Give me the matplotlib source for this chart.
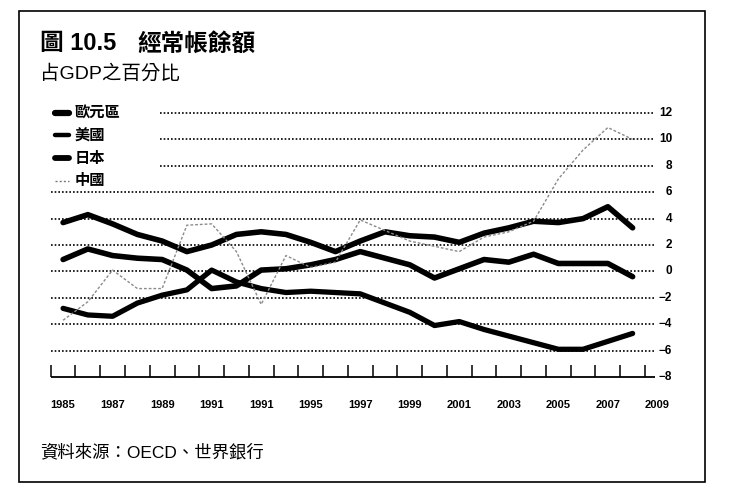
import matplotlib
matplotlib.use('Agg')
import matplotlib.pyplot as plt
from matplotlib.lines import Line2D
from matplotlib.patches import Rectangle
import matplotlib.transforms as mtransforms

plt.rcParams['font.family'] = ['Noto Sans CJK TC', 'DejaVu Sans']
MIXED = ['Liberation Sans', 'Noto Sans CJK TC', 'DejaVu Sans']

# ---------------- data ----------------
years = list(range(1985, 2009))
euro = [0.9, 1.7, 1.2, 1.0, 0.9, 0.1, -1.3, -1.1, 0.1, 0.2, 0.5, 0.9,
        1.5, 1.0, 0.5, -0.5, 0.2, 0.9, 0.7, 1.3, 0.6, 0.6, 0.6, -0.4]
usa = [-2.8, -3.3, -3.4, -2.4, -1.8, -1.4, 0.1, -0.8, -1.3, -1.6, -1.5, -1.6,
       -1.7, -2.4, -3.1, -4.1, -3.8, -4.4, -4.9, -5.4, -5.9, -5.9, -5.3, -4.7]
japan = [3.7, 4.3, 3.6, 2.8, 2.3, 1.5, 2.0, 2.8, 3.0, 2.8, 2.2, 1.5,
         2.3, 3.0, 2.7, 2.6, 2.2, 2.9, 3.3, 3.8, 3.7, 4.0, 4.9, 3.3]
china = [-3.7, -2.3, 0.1, -1.3, -1.3, 3.5, 3.6, 1.5, -2.5, 1.2, 0.3, 0.7,
         3.9, 3.1, 2.3, 1.9, 1.5, 2.6, 3.0, 3.8, 7.0, 9.2, 10.9, 10.0]
series_names = ['歐元區', '美國', '日本', '中國']
xtick_years = [1985, 1987, 1989, 1991, 1993, 1995, 1997, 1999, 2001, 2003, 2005, 2007, 2009]
xtick_labels = ['1985', '1987', '1989', '1991', '1991', '1995', '1997', '1999',
                '2001', '2003', '2005', '2007', '2009']
yticks = [12, 10, 8, 6, 4, 2, 0, -2, -4, -6, -8]
title_num = '圖 10.5'
title_txt = '經常帳餘額'
subtitle = '占GDP之百分比'
source = '資料來源：OECD、世界銀行'

# ---------------- figure ----------------
W, H = 732, 503
fig = plt.figure(figsize=(W / 100, H / 100), dpi=100)
fig.patch.set_facecolor('white')


def fx(px):
    return px / W


def fy(py):
    return 1 - py / H


ax = fig.add_axes([fx(50.7), fy(377), fx(645) - fx(50.7), fy(113) - fy(377)])
ax.set_xlim(1984.5, 2008.5)
ax.set_ylim(-8, 12)
for s in ax.spines.values():
    s.set_visible(False)
ax.set_facecolor('none')

# x ticks: boundaries between years
ax.set_xticks([1984.5 + k for k in range(25)])
ax.tick_params(axis='x', direction='in', length=8.5, width=1.1, color='black',
               labelbottom=False)
ax.set_yticks([])

x_right = 1984.5 + (655 - 50.7) / 24.76
x_leg = 1984.5 + (160 - 50.7) / 24.76

# dotted gridlines
for y in yticks[:-1]:
    xs = x_leg if y >= 8 else 1984.5
    ax.plot([xs, x_right], [y, y], color='black', lw=1.2,
            linestyle=(0, (1, 1.2)), clip_on=False, zorder=1)
# bottom axis line
ax.plot([1984.5, x_right], [-8, -8], color='black', lw=1.3, clip_on=False,
        zorder=2, solid_capstyle='butt')

# series
line_kw = dict(color='black', solid_capstyle='round', solid_joinstyle='round',
               zorder=3)
ax.plot(years, euro, lw=4.0, **line_kw)
ax.plot(years, usa, lw=3.8, **line_kw)
ax.plot(years, japan, lw=4.0, **line_kw)
ax.plot(years, china, color='#8a8a8a', lw=1.0, linestyle=(0, (2, 1.4)),
        zorder=4)

# y labels at right
ytr = mtransforms.blended_transform_factory(fig.transFigure, ax.transData)
for y in yticks:
    lab = str(y) if y >= 0 else '−' + str(-y)
    ax.text(fx(672), y, lab, transform=ytr, ha='right', va='center',
            fontsize=8.5, fontweight='bold', family=MIXED)

# x labels
xtr = mtransforms.blended_transform_factory(ax.transData, fig.transFigure)
for yr, lab in zip(xtick_years, xtick_labels):
    ax.text(yr, fy(405), lab, transform=xtr, ha='center', va='center',
            fontsize=8, fontweight='bold', family=MIXED, clip_on=False)

# legend (manual)
leg_rows = [113, 135.5, 158, 180.5]
leg_styles = [
    dict(color='black', lw=4.5, solid_capstyle='round'),
    dict(color='black', lw=3.2, solid_capstyle='round'),
    dict(color='black', lw=4.2, solid_capstyle='round'),
    dict(color='#777777', lw=1.0, linestyle=(0, (1.5, 1.5))),
]
for name, ry, st in zip(series_names, leg_rows, leg_styles):
    fig.add_artist(Line2D([fx(55), fx(69)], [fy(ry), fy(ry)], **st))
    fig.text(fx(75), fy(ry), name, ha='left', va='center', fontsize=11,
             fontweight='bold')

# titles
fig.text(fx(40), fy(44), title_num, ha='left', va='center', fontsize=17,
         fontweight='bold', family=MIXED)
fig.text(fx(137), fy(44), title_txt, ha='left', va='center', fontsize=17,
         fontweight='bold')
fig.text(fx(40), fy(74), subtitle, ha='left', va='center', fontsize=14,
         family=MIXED)
fig.text(fx(40), fy(452), source, ha='left', va='center', fontsize=12.5,
         family=MIXED)

# frame
fig.add_artist(Rectangle((fx(19), fy(482)), fx(705) - fx(19), fy(10.7) - fy(482),
                         transform=fig.transFigure, fill=False, lw=1.2,
                         edgecolor='black'))

fig.savefig('out.png', dpi=100)
